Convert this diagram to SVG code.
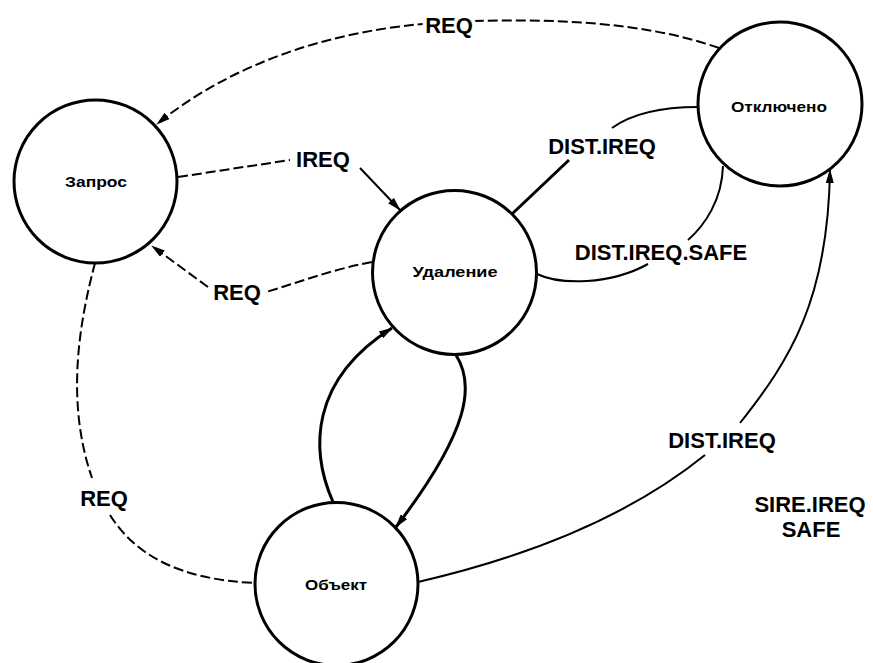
<svg xmlns="http://www.w3.org/2000/svg" width="873" height="663" viewBox="0 0 873 663">
<style>
.node{fill:#fff;stroke:#000;stroke-width:3}
.nl{font-family:"Liberation Sans",Arial,sans-serif;font-size:15px;font-weight:bold;text-anchor:middle;fill:#000}
.lbl{font-family:"Liberation Sans",Arial,sans-serif;font-size:22px;font-weight:bold;text-anchor:middle;fill:#000}
.halo{stroke:#fff;stroke-width:8;paint-order:stroke;stroke-linejoin:round}
.c{fill:none;stroke:#000;stroke-width:2}
.d{stroke-dasharray:10 4}
.t{stroke-width:3}
</style>
<defs>
<marker id="ah" markerUnits="userSpaceOnUse" viewBox="0 0 14 8" refX="13" refY="4" markerWidth="14" markerHeight="8" orient="auto">
<path d="M0,0 L14,4 L0,8 z" fill="#000"/>
</marker>
</defs>
<rect width="873" height="663" fill="#fff"/>
<g id="connectors">
<path class="c d" d="M 719 48 C 640 20, 540 18, 450 22 C 330 28, 230 65, 157 124" marker-end="url(#ah)"/>
<path class="c d" d="M 178 177 L 290 160"/>
<path class="c" d="M 360 168 L 400 210" marker-end="url(#ah)"/>
<path class="c d" d="M 372 262 C 330 270, 300 282, 266 292"/>
<path class="c d" d="M 208 287 L 152 246" marker-end="url(#ah)"/>
<path class="c t" d="M 512 214 L 569 160"/>
<path class="c" d="M 612 128 C 630 115, 660 107, 698 107"/>
<path class="c" d="M 537 274 C 560 285, 610 285, 648 264"/>
<path class="c" d="M 688 240 C 705 225, 722 200, 723 166"/>
<path class="c" d="M 418 582 Q 600 540 705 455"/>
<path class="c" d="M 740 423 C 790 360, 828 300, 830 170" marker-end="url(#ah)"/>
<path class="c d" d="M 95 263 C 80 320, 65 400, 92 478"/>
<path class="c d" d="M 110 515 C 135 555, 180 580, 256 583"/>
<path class="c t" d="M 333 502 C 310 450, 310 380, 392 328" marker-end="url(#ah)"/>
<path class="c t" d="M 456 355 C 475 385, 470 430, 396 527" marker-end="url(#ah)"/>
<text class="lbl halo" x="449" y="33">REQ</text>
<text class="lbl" x="323" y="167">IREQ</text>
<text class="lbl" x="237" y="300">REQ</text>
<text class="lbl" x="602" y="154">DIST.IREQ</text>
<text class="lbl" x="661" y="260">DIST.IREQ.SAFE</text>
<text class="lbl" x="722" y="448">DIST.IREQ</text>
<text class="lbl" x="104" y="506">REQ</text>
<text class="lbl" x="810" y="512">SIRE.IREQ</text>
<text class="lbl" x="811" y="537">SAFE</text>
</g>
<g id="node-zapros">
<circle class="node" cx="95.5" cy="181.5" r="81.5"/>
<text class="nl" x="96" y="187" textLength="62" lengthAdjust="spacingAndGlyphs">Запрос</text>
</g>
<g id="node-udalenie">
<circle class="node" cx="454.5" cy="272.5" r="82"/>
<text class="nl" x="455" y="277" textLength="85" lengthAdjust="spacingAndGlyphs">Удаление</text>
</g>
<g id="node-otklyucheno">
<circle class="node" cx="780" cy="104" r="82"/>
<text class="nl" x="779" y="112" textLength="96" lengthAdjust="spacingAndGlyphs">Отключено</text>
</g>
<g id="node-obekt">
<circle class="node" cx="336.5" cy="584" r="81.5"/>
<text class="nl" x="336" y="590" textLength="62" lengthAdjust="spacingAndGlyphs">Объект</text>
</g>
</svg>
